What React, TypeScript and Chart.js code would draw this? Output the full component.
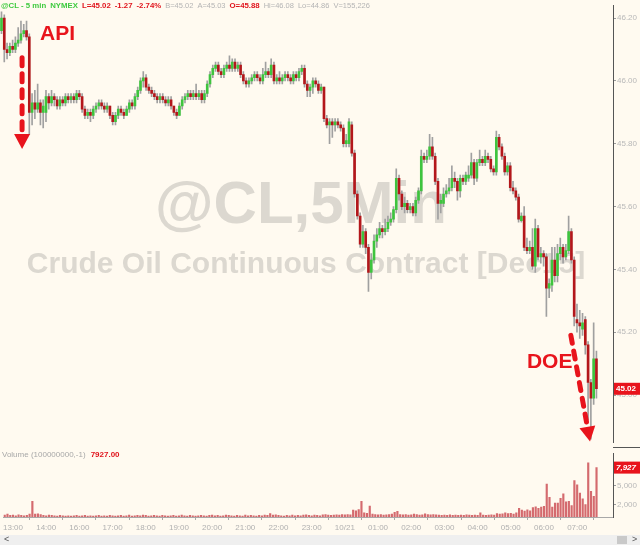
import React, { useEffect, useRef } from 'react';
import { Chart, registerables } from 'chart.js';

Chart.register(...registerables);

// ---- DATA (5-min bars, one row = one hour) ----
const opens = [
  46.16,46.20,46.10,46.09,46.11,46.10,46.12,46.13,46.15,46.16,46.14,45.90,
  45.93,45.91,45.93,45.90,45.90,45.95,45.93,45.95,45.94,45.92,45.94,45.93,
  45.95,45.94,45.95,45.94,45.96,45.95,45.91,45.89,45.90,45.89,45.91,45.92,
  45.93,45.92,45.91,45.92,45.89,45.87,45.89,45.91,45.90,45.89,45.91,45.93,
  45.92,45.95,45.97,46.00,46.01,45.98,45.97,45.96,45.95,45.94,45.95,45.94,
  45.93,45.94,45.92,45.90,45.89,45.92,45.94,45.95,45.96,45.95,45.96,45.95,
  45.96,45.94,45.96,45.99,46.02,46.04,46.05,46.03,46.02,46.04,46.05,46.04,
  46.06,46.04,46.05,46.02,46.00,45.99,46.00,46.01,46.02,46.01,46.00,46.02,
  46.03,46.02,46.05,46.00,46.01,46.00,46.01,46.02,46.01,46.00,46.02,46.01,
  46.03,46.04,45.99,45.97,45.98,46.00,45.99,45.97,45.98,45.88,45.86,45.87,
  45.86,45.87,45.86,45.85,45.80,45.80,45.86,45.77,45.64,45.57,45.48,45.52,
  45.47,45.39,45.43,45.49,45.51,45.53,45.52,45.53,45.55,45.56,45.59,45.69,
  45.64,45.60,45.61,45.59,45.60,45.58,45.62,45.65,45.76,45.75,45.76,45.79,
  45.76,45.68,45.61,45.61,45.64,45.65,45.66,45.69,45.68,45.65,45.69,45.68,
  45.69,45.70,45.74,45.69,45.74,45.75,45.74,45.76,45.75,45.72,45.71,45.82,
  45.79,45.76,45.71,45.73,45.66,45.65,45.63,45.555,45.57,45.47,45.46,45.47,
  45.41,45.53,45.44,45.45,45.44,45.34,45.35,45.43,45.38,45.45,45.47,45.44,
  45.46,45.52,45.43,45.24,45.23,45.21,45.24,45.16,45.04,44.99,45.115,
];
const highs = [
  46.22,46.21,46.12,46.12,46.13,46.14,46.17,46.19,46.18,46.19,46.15,45.96,
  45.97,45.99,45.94,45.94,45.97,45.96,45.97,45.96,45.95,45.95,45.95,45.96,
  45.96,45.96,45.96,45.97,45.97,45.96,45.92,45.91,45.91,45.92,45.93,45.94,
  45.94,45.93,45.93,45.92,45.90,45.90,45.92,45.92,45.91,45.92,45.94,45.94,
  45.96,45.98,46.01,46.03,46.02,45.99,45.98,45.97,45.96,45.96,45.96,45.95,
  45.95,45.95,45.92,45.91,45.93,45.95,45.96,45.97,45.97,45.97,45.99,45.97,
  45.97,45.97,46.00,46.03,46.05,46.06,46.06,46.04,46.05,46.06,46.08,46.07,
  46.07,46.06,46.06,46.03,46.01,46.01,46.02,46.03,46.03,46.02,46.04,46.06,
  46.04,46.07,46.06,46.02,46.03,46.02,46.03,46.03,46.02,46.03,46.03,46.04,
  46.05,46.05,46.00,45.99,46.01,46.01,46.00,45.99,45.98,45.89,45.88,45.88,
  45.88,45.88,45.87,45.86,45.83,45.88,45.87,45.78,45.65,45.58,45.54,45.53,
  45.48,45.45,45.51,45.53,45.55,45.54,45.56,45.57,45.58,45.60,45.72,45.70,
  45.65,45.63,45.62,45.61,45.61,45.63,45.66,45.78,45.77,45.78,45.83,45.82,
  45.77,45.69,45.64,45.66,45.67,45.69,45.73,45.71,45.69,45.70,45.70,45.71,
  45.73,45.77,45.75,45.75,45.78,45.76,45.78,45.77,45.76,45.73,45.84,45.83,
  45.80,45.77,45.74,45.74,45.68,45.66,45.64,45.58,45.60,45.50,45.49,45.53,
  45.56,45.54,45.47,45.46,45.45,45.37,45.47,45.47,45.48,45.50,45.48,45.48,
  45.57,45.53,45.44,45.29,45.27,45.26,45.25,45.17,45.05,45.23,45.14,
];
const lows = [
  46.15,46.06,46.07,46.08,46.09,46.09,46.11,46.12,46.14,46.13,45.83,45.86,
  45.88,45.90,45.86,45.85,45.87,45.91,45.92,45.92,45.91,45.91,45.92,45.92,
  45.93,45.93,45.93,45.93,45.94,45.90,45.88,45.88,45.87,45.88,45.90,45.91,
  45.91,45.90,45.90,45.88,45.86,45.86,45.88,45.89,45.88,45.89,45.90,45.91,
  45.91,45.94,45.96,45.98,45.97,45.96,45.95,45.94,45.93,45.93,45.93,45.92,
  45.92,45.91,45.89,45.88,45.89,45.91,45.93,45.94,45.94,45.94,45.94,45.94,
  45.93,45.93,45.95,45.98,46.01,46.03,46.02,46.01,46.01,46.03,46.03,46.03,
  46.03,46.03,46.01,45.99,45.98,45.98,45.99,46.00,46.00,45.99,45.99,46.01,
  46.01,46.01,45.99,45.99,45.99,45.99,46.00,46.00,45.99,45.99,46.00,46.00,
  46.02,45.98,45.95,45.95,45.96,45.98,45.96,45.96,45.87,45.85,45.80,45.82,
  45.84,45.85,45.84,45.79,45.79,45.79,45.76,45.63,45.56,45.47,45.47,45.45,
  45.33,45.37,45.42,45.47,45.50,45.50,45.51,45.52,45.54,45.55,45.58,45.62,
  45.59,45.58,45.58,45.58,45.57,45.57,45.61,45.64,45.74,45.74,45.75,45.75,
  45.67,45.56,45.58,45.60,45.63,45.64,45.65,45.66,45.62,45.63,45.67,45.67,
  45.68,45.69,45.67,45.68,45.73,45.73,45.73,45.74,45.71,45.70,45.70,45.78,
  45.75,45.70,45.70,45.65,45.64,45.62,45.55,45.55,45.46,45.45,45.45,45.40,
  45.39,45.43,45.42,45.41,45.25,45.31,45.33,45.36,45.36,45.43,45.42,45.43,
  45.45,45.42,45.22,45.20,45.18,45.19,45.13,44.92,44.86,44.97,44.99,
];
const closes = [
  46.20,46.10,46.09,46.11,46.10,46.12,46.13,46.15,46.16,46.14,45.90,45.93,
  45.91,45.93,45.90,45.92,45.95,45.93,45.95,45.94,45.92,45.94,45.93,45.95,
  45.94,45.95,45.94,45.96,45.95,45.91,45.89,45.90,45.89,45.91,45.92,45.93,
  45.92,45.91,45.92,45.89,45.87,45.89,45.91,45.90,45.89,45.91,45.93,45.92,
  45.95,45.97,46.00,46.01,45.98,45.97,45.96,45.95,45.94,45.95,45.94,45.93,
  45.94,45.92,45.90,45.89,45.92,45.94,45.95,45.96,45.95,45.96,45.95,45.96,
  45.94,45.96,45.99,46.02,46.04,46.05,46.03,46.02,46.04,46.05,46.04,46.06,
  46.04,46.05,46.02,46.00,45.99,46.00,46.01,46.02,46.01,46.00,46.02,46.03,
  46.02,46.05,46.00,46.01,46.00,46.01,46.02,46.01,46.00,46.02,46.01,46.03,
  46.04,45.99,45.97,45.98,46.00,45.99,45.97,45.98,45.88,45.86,45.87,45.86,
  45.87,45.86,45.85,45.80,45.81,45.87,45.77,45.64,45.57,45.48,45.52,45.47,
  45.39,45.43,45.49,45.51,45.53,45.52,45.53,45.55,45.56,45.59,45.69,45.64,
  45.60,45.61,45.59,45.60,45.58,45.62,45.65,45.76,45.75,45.76,45.79,45.76,
  45.68,45.61,45.62,45.64,45.65,45.66,45.69,45.68,45.65,45.69,45.68,45.70,
  45.70,45.74,45.69,45.74,45.75,45.74,45.76,45.75,45.72,45.71,45.82,45.79,
  45.76,45.71,45.73,45.66,45.65,45.63,45.56,45.57,45.47,45.46,45.47,45.41,
  45.53,45.44,45.45,45.44,45.34,45.355,45.43,45.38,45.45,45.47,45.44,45.46,
  45.52,45.43,45.25,45.23,45.22,45.23,45.16,45.04,44.99,45.115,45.02,
];
const volumes = [
  300,450,250,300,200,350,250,200,250,450,2500,450,
  500,400,250,200,300,250,200,150,250,200,150,200,
  150,200,250,150,200,250,150,200,150,200,250,150,
  200,150,250,200,150,200,250,150,200,300,150,200,
  250,200,300,250,150,200,250,200,150,250,200,150,
  200,250,150,200,300,200,150,250,200,150,200,250,
  200,150,250,300,200,250,150,200,300,250,200,150,
  250,200,150,300,200,250,200,150,250,200,300,250,
  550,300,350,250,200,150,250,200,300,200,250,200,
  300,350,250,200,300,250,200,350,400,300,250,300,
  350,300,400,350,400,350,1100,1000,1200,2500,650,600,
  1750,450,400,350,400,300,350,400,450,750,900,400,
  350,400,300,350,450,400,300,350,500,400,350,400,
  350,300,250,300,250,350,250,300,250,300,250,350,
  300,250,300,250,650,300,250,300,350,300,550,450,
  500,650,550,600,450,650,1400,1100,950,1150,1000,1500,
  1650,1400,1600,1700,5300,3150,1600,2250,2250,3000,3700,2450,
  2500,1850,5850,5150,3850,2900,2000,8700,4100,3300,7927,
];
const timeTickBars = [3,15,27,39,51,63,75,87,99,111,123,135,147,159,171,183,195,207];
const timeTickLabels = ['13:00','14:00','16:00','17:00','18:00','19:00','20:00','21:00','22:00','23:00','10/21','01:00','02:00','03:00','04:00','05:00','06:00','07:00'];
const priceTicks = [45.0, 45.2, 45.4, 45.6, 45.8, 46.0, 46.2];
const volumeTicks = [2000, 5000];

const X_MIN = -0.54;
const X_MAX = 219.96;
const PRICE_MIN = 44.85;
const PRICE_MAX = 46.239;
const VOL_MAX = 10143;

const FONT = '"Liberation Sans", Arial, sans-serif';
const UP = '#3ec43e';
const DOWN = '#b3171b';
const WICK = '#a0a0a0';
const RED = '#e8141c';
const BG = '#fffaf0';

function drawDashedArrow(ctx: CanvasRenderingContext2D, x1: number, y1: number, x2: number, y2: number) {
  const dx = x2 - x1, dy = y2 - y1;
  const len = Math.hypot(dx, dy);
  const ux = dx / len, uy = dy / len;
  const head = 15, half = 8;
  const bx = x2 - ux * head, by = y2 - uy * head;
  ctx.save();
  ctx.strokeStyle = RED;
  ctx.lineWidth = 5;
  ctx.lineCap = 'round';
  ctx.setLineDash([8, 8]);
  ctx.beginPath();
  ctx.moveTo(x1, y1);
  ctx.lineTo(bx - ux * 3, by - uy * 3);
  ctx.stroke();
  ctx.setLineDash([]);
  ctx.fillStyle = RED;
  ctx.beginPath();
  ctx.moveTo(x2, y2);
  ctx.lineTo(bx - uy * half, by + ux * half);
  ctx.lineTo(bx + uy * half, by - ux * half);
  ctx.closePath();
  ctx.fill();
  ctx.restore();
}

const watermarkPlugin = {
  id: 'watermark',
  beforeDatasetsDraw(chart: any) {
    const ctx = chart.ctx;
    ctx.save();
    ctx.fillStyle = '#dcd8d0';
    ctx.textAlign = 'center';
    ctx.textBaseline = 'alphabetic';
    ctx.font = `bold 60px ${FONT}`;
    ctx.fillText('@CL,5Min', 301, 223);
    ctx.font = `bold 30px ${FONT}`;
    ctx.fillText('Crude Oil Continuous Contract [Dec15]', 306, 273);
    ctx.restore();
  },
};

const annotationPlugin = {
  id: 'annotations',
  afterDraw(chart: any) {
    const ctx = chart.ctx;
    const xs = chart.scales.x;
    const ys = chart.scales.y;
    const px = (v: number) => xs.getPixelForValue(v);
    const py = (v: number) => ys.getPixelForValue(v);
    ctx.save();
    ctx.fillStyle = RED;
    ctx.font = `bold 21px ${FONT}`;
    ctx.textAlign = 'left';
    ctx.textBaseline = 'alphabetic';
    ctx.fillText('API', px(13.85), py(46.13));
    ctx.fillText('DOE', px(189.0), py(45.085));
    ctx.restore();
    drawDashedArrow(ctx, px(7.4), py(46.074), px(7.4), py(45.783));
    drawDashedArrow(ctx, px(204.8), py(45.19), px(211.7), py(44.852));
    // last price box
    const last = closes[closes.length - 1];
    const y = py(last);
    const left = chart.chartArea.right + 1;
    ctx.save();
    ctx.fillStyle = RED;
    ctx.fillRect(left, y - 6, 640 - left, 12);
    ctx.fillStyle = '#ffffff';
    ctx.font = `bold 8px ${FONT}`;
    ctx.textBaseline = 'middle';
    ctx.textAlign = 'left';
    ctx.fillText(last.toFixed(2), left + 2, y + 0.5);
    ctx.restore();
  },
};

const volumeBoxPlugin = {
  id: 'volbox',
  afterDraw(chart: any) {
    const ctx = chart.ctx;
    const ys = chart.scales.y;
    const last = volumes[volumes.length - 1];
    const y = ys.getPixelForValue(last);
    const left = chart.chartArea.right + 1;
    ctx.save();
    ctx.fillStyle = RED;
    ctx.fillRect(left, y - 6, 640 - left, 12);
    ctx.fillStyle = '#ffffff';
    ctx.font = `bold italic 8px ${FONT}`;
    ctx.textBaseline = 'middle';
    ctx.textAlign = 'left';
    ctx.fillText(last.toLocaleString('en-US'), left + 2, y + 0.5);
    ctx.restore();
  },
};

export default function App() {
  const priceRef = useRef<HTMLCanvasElement>(null);
  const volRef = useRef<HTMLCanvasElement>(null);

  useEffect(() => {
    Chart.defaults.font.family = FONT;
    const bodies = closes.map((c, i) => ({ x: i, y: [opens[i], c] }));
    const wicks = lows.map((l, i) => ({ x: i, y: [l, highs[i]] }));
    const bodyColors = closes.map((c, i) => (c >= opens[i] ? UP : DOWN));

    const price = new Chart(priceRef.current as HTMLCanvasElement, {
      type: 'bar',
      data: {
        datasets: [
          {
            data: bodies as any,
            backgroundColor: bodyColors,
            borderWidth: 0,
            barThickness: 2,
            minBarLength: 1,
            grouped: false,
          } as any,
          {
            data: wicks as any,
            backgroundColor: WICK,
            borderWidth: 0,
            barThickness: 1,
            grouped: false,
          } as any,
        ],
      },
      options: {
        animation: false,
        responsive: false,
        maintainAspectRatio: false,
        devicePixelRatio: 1,
        events: [],
        layout: { padding: 0 },
        plugins: { legend: { display: false }, tooltip: { enabled: false } },
        scales: {
          x: { type: 'linear', min: X_MIN, max: X_MAX, offset: false, display: false },
          y: {
            position: 'right',
            min: PRICE_MIN,
            max: PRICE_MAX,
            beginAtZero: false,
            afterBuildTicks: (s: any) => { s.ticks = priceTicks.map((v) => ({ value: v })); },
            afterFit: (s: any) => { s.width = 27; },
            grid: { drawOnChartArea: false, drawTicks: true, tickLength: 3, color: '#9a9a9a' },
            border: { display: true, color: '#555555', width: 1 },
            ticks: {
              padding: 1,
              color: '#b8b8b8',
              font: { size: 8 },
              callback: (v: any) => Number(v).toFixed(2),
            },
          },
        },
      } as any,
      plugins: [watermarkPlugin, annotationPlugin],
    });

    const vol = new Chart(volRef.current as HTMLCanvasElement, {
      type: 'bar',
      data: {
        datasets: [
          {
            data: volumes.map((v, i) => ({ x: i, y: v })) as any,
            backgroundColor: '#d46a6e',
            borderWidth: 0,
            barThickness: 1.5,
            grouped: false,
          } as any,
        ],
      },
      options: {
        animation: false,
        responsive: false,
        maintainAspectRatio: false,
        devicePixelRatio: 1,
        events: [],
        layout: { padding: 0 },
        plugins: { legend: { display: false }, tooltip: { enabled: false } },
        scales: {
          x: {
            type: 'linear',
            min: X_MIN,
            max: X_MAX,
            offset: false,
            afterBuildTicks: (s: any) => { s.ticks = timeTickBars.map((v) => ({ value: v })); },
            afterFit: (s: any) => { s.height = 18; },
            grid: { drawOnChartArea: false, drawTicks: true, tickLength: 3, color: '#a8a8a8' },
            border: { display: true, color: '#a8a8a8' },
            ticks: {
              autoSkip: false,
              maxRotation: 0,
              padding: 3,
              color: '#b0b0b0',
              font: { size: 8 },
              callback: (_v: any, idx: number) => timeTickLabels[idx],
            },
          },
          y: {
            position: 'right',
            min: 0,
            max: VOL_MAX,
            afterBuildTicks: (s: any) => { s.ticks = volumeTicks.map((v) => ({ value: v })); },
            afterFit: (s: any) => { s.width = 27; },
            grid: { drawOnChartArea: false, drawTicks: true, tickLength: 3, color: '#9a9a9a' },
            border: { display: true, color: '#555555', width: 1 },
            ticks: {
              padding: 1,
              color: '#b8b8b8',
              font: { size: 8 },
              callback: (v: any) => Number(v).toLocaleString('en-US'),
            },
          },
        },
      } as any,
      plugins: [volumeBoxPlugin],
    });

    return () => {
      price.destroy();
      vol.destroy();
    };
  }, []);

  const hdr: React.CSSProperties = { marginRight: 4 };
  const gray: React.CSSProperties = { marginRight: 4, color: '#b4b4b4', fontWeight: 'normal', fontSize: 7.5 };
  return (
    <div style={{ position: 'absolute', left: 0, top: 0, width: 640, height: 545, background: BG, overflow: 'hidden', fontFamily: FONT }}>
      <canvas ref={priceRef} width={640} height={448} style={{ position: 'absolute', left: 0, top: 0, display: 'block' }} />
      <canvas ref={volRef} width={640} height={87} style={{ position: 'absolute', left: 0, top: 448, display: 'block' }} />
      <div style={{ position: 'absolute', left: 1, top: 1, fontSize: 7.8, lineHeight: '9px', whiteSpace: 'nowrap', fontWeight: 'bold' }}>
        <span style={{ ...hdr, color: '#3fca3f' }}>@CL - 5 min</span>
        <span style={{ ...hdr, color: '#3fca3f' }}>NYMEX</span>
        <span style={{ ...hdr, color: '#e0141c' }}>L=45.02</span>
        <span style={{ ...hdr, color: '#e0141c' }}>-1.27</span>
        <span style={{ ...hdr, color: '#e0141c' }}>-2.74%</span>
        <span style={gray}>B=45.02</span>
        <span style={gray}>A=45.03</span>
        <span style={{ ...hdr, color: '#e0141c' }}>O=45.88</span>
        <span style={gray}>Hi=46.08</span>
        <span style={gray}>Lo=44.86</span>
        <span style={gray}>V=155,226</span>
      </div>
      <div style={{ position: 'absolute', left: 613, top: 447, width: 27, height: 1, background: '#555555' }} />
      <div style={{ position: 'absolute', left: 2, top: 450, fontSize: 8, lineHeight: '9px', whiteSpace: 'nowrap', color: '#a8a8a8' }}>
        <span style={{ marginRight: 5 }}>Volume (100000000,-1)</span>
        <span style={{ color: '#e0141c', fontWeight: 'bold' }}>7927.00</span>
      </div>
      <div style={{ position: 'absolute', left: 0, top: 535, width: 640, height: 10, background: '#efefef' }}>
        <span style={{ position: 'absolute', left: 4, top: -1, fontSize: 9, color: '#555' }}>&lt;</span>
        <div style={{ position: 'absolute', left: 617, top: 1, width: 10, height: 8, background: '#c9c9c9' }} />
        <span style={{ position: 'absolute', left: 632, top: -1, fontSize: 9, color: '#555' }}>&gt;</span>
      </div>
    </div>
  );
}
